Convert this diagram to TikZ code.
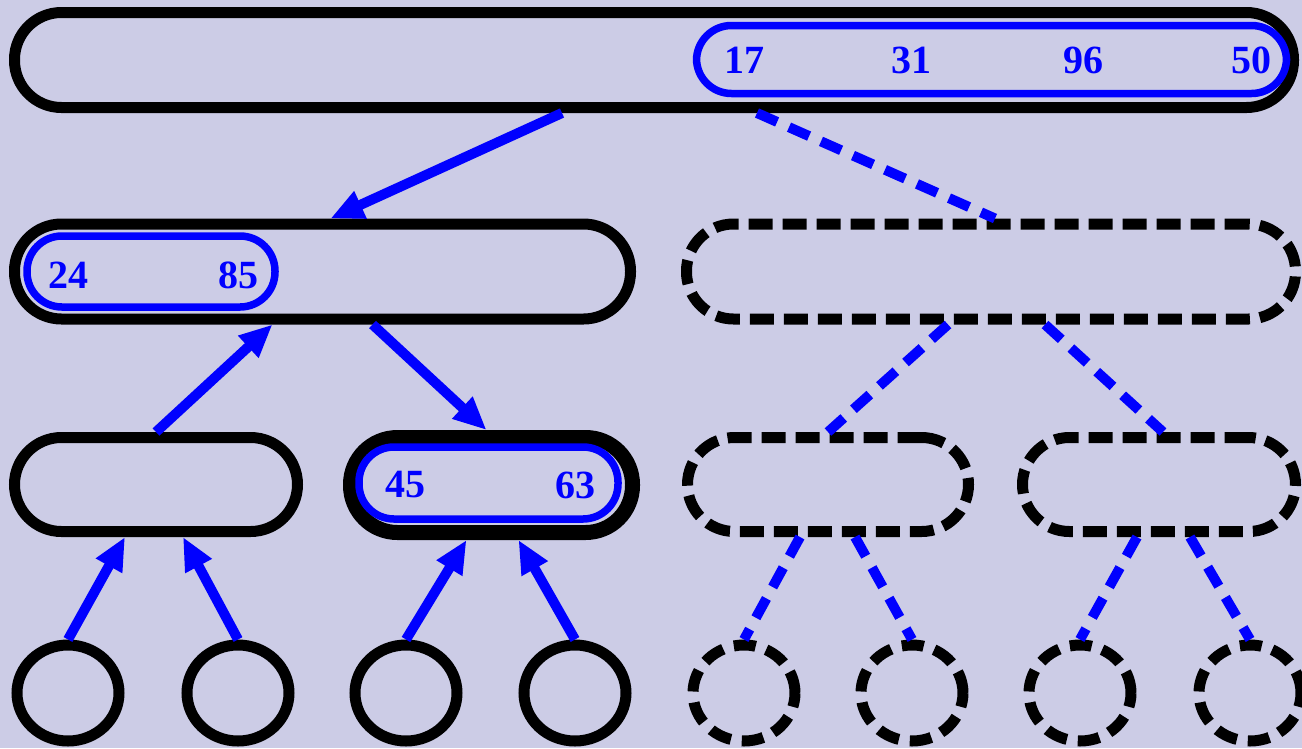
\documentclass[tikz,border=0pt]{standalone}
\usepackage{fontspec}
\setmainfont{Liberation Serif}
\usetikzlibrary{arrows.meta,shapes.geometric,calc}
\definecolor{bg}{RGB}{204,204,230}
\definecolor{pblue}{RGB}{0,0,255}
\begin{document}
\begin{tikzpicture}[x=1pt,y=-1pt,
  box/.style={draw=black,line width=11pt,rounded corners=47pt,minimum height=95pt,inner sep=0pt},
  dbox/.style={box,dash pattern=on 24pt off 10pt},
  ibox/.style={draw=pblue,line width=7.5pt,rounded corners=35pt,minimum height=70pt,inner sep=0pt},
  leaf/.style={draw=black,line width=11pt,ellipse,minimum width=102pt,minimum height=96pt,inner sep=0pt},
  dleaf/.style={leaf,dash pattern=on 22pt off 11pt},
  num/.style={text=pblue,font=\fontsize{40}{44}\selectfont\bfseries,inner sep=0pt},
  arr/.style={draw=pblue,line width=10pt,-{Triangle[length=33pt,width=28pt]}},
  dl/.style={draw=pblue,line width=10pt,dash pattern=on 22pt off 13pt}]
\useasboundingbox[fill=bg] (0,0) rectangle (1302,748);
% boxes
\node[box,minimum width=1279pt] (top) at (654,60) {};
\node[ibox,minimum width=590pt,minimum height=68pt] (tin) at (991.5,59.5) {};
\node[box,minimum width=616pt] (ml) at (322.5,271.5) {};
\node[ibox,minimum width=248pt,minimum height=71pt] (mlin) at (151,271.5) {};
\node[dbox,minimum width=609pt] (mr) at (991,271.5) {};
\node[box,minimum width=283pt,minimum height=94pt] (la) at (156,484.5) {};
\node[box,line width=15pt,minimum width=282pt] (lb) at (491.5,485) {};
\node[ibox,minimum width=259pt,minimum height=72pt] (lbin) at (488.5,483) {};
\node[dbox,minimum width=281pt,minimum height=94pt] (lc) at (828,484.5) {};
\node[dbox,minimum width=273pt,minimum height=94pt] (ld) at (1159,484.5) {};
% leaves
\node[leaf] (c1) at (68,693) {};
\node[leaf] (c2) at (238,693) {};
\node[leaf] (c3) at (406,693) {};
\node[leaf] (c4) at (575,693) {};
\node[dleaf] (c5) at (744,693) {};
\node[dleaf] (c6) at (912,693) {};
\node[dleaf] (c7) at (1080,693) {};
\node[dleaf] (c8) at (1250,693) {};
% numbers
\node[num] (n17) at (744,60) {17};
\node[num] (n31) at (911,60) {31};
\node[num] (n96) at (1083,60) {96};
\node[num] (n50) at (1251,60) {50};
\node[num] (n24) at (68,275) {24};
\node[num] (n85) at (238,275) {85};
\node[num] (n45) at (405,485) {45};
\node[num] (n63) at (575,485) {63};
% connectors
\draw[arr] ($(top.south)+(-92,0)$) -- ($(ml.north)+(8,0)$);
\draw[arr] ($(la.north)+(0,0)$) -- ($(ml.south)+(-50,0)$);
\draw[arr] ($(ml.south)+(50,0)$) -- ($(lb.north)+(-5,0)$);
\draw[arr] (c1.north) -- ($(la.south)+(-31,0)$);
\draw[arr] (c2.north) -- ($(la.south)+(27,0)$);
\draw[arr] (c3.north) -- ($(lb.south)+(-25,0)$);
\draw[arr] (c4.north) -- ($(lb.south)+(27,0)$);
\draw[dl] ($(top.south)+(103,0)$) -- ($(mr.north)+(4,0)$);
\draw[dl] ($(mr.south)+(-43,0)$) -- ($(lc.north)+(0,0)$);
\draw[dl] ($(mr.south)+(54,0)$) -- ($(ld.north)+(4,0)$);
\draw[dl] ($(lc.south)+(-28,0)$) -- (c5.north);
\draw[dl] ($(lc.south)+(27,0)$) -- (c6.north);
\draw[dl] ($(ld.south)+(-22,0)$) -- (c7.north);
\draw[dl] ($(ld.south)+(31,0)$) -- (c8.north);
\end{tikzpicture}
\end{document}
